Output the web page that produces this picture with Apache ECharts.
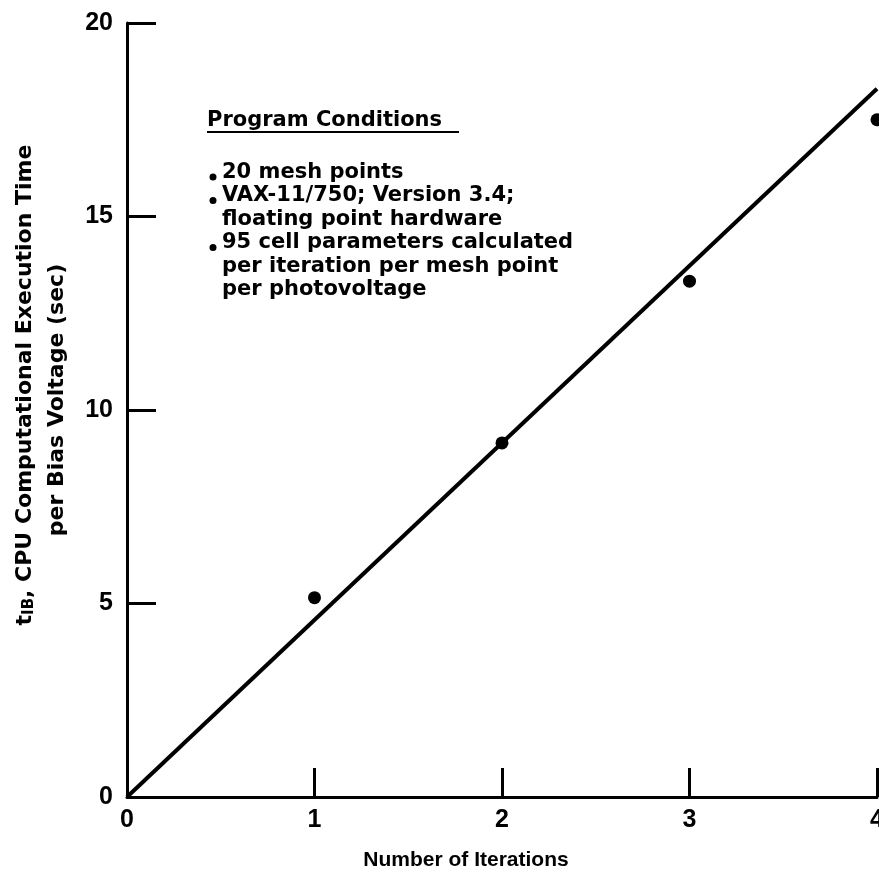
<!DOCTYPE html>
<html>
<head>
<meta charset="utf-8">
<script src="https://cdn.jsdelivr.net/npm/echarts@6/dist/echarts.min.js"></script>
<style>html,body{margin:0;padding:0;background:#fff;}#c{width:879px;height:877px;}</style>
</head>
<body>
<div id="c"></div>
<script>
// Data
var iterations = [1, 2, 3, 4];
var cpuTimes = [5.15, 9.15, 13.33, 17.5];
var fitX = [0, 4];
var fitY = [0, 18.3];
var yTicks = [0, 5, 10, 15, 20];
var xTicks = [0, 1, 2, 3, 4];
var conditionsTitle = 'Program Conditions';
var conditionLines = [
  '20 mesh points',
  'VAX-11/750; Version 3.4;',
  'floating point hardware',
  '95 cell parameters calculated',
  'per iteration per mesh point',
  'per photovoltage'
];
var bulletedLines = [0, 1, 3];

var FONT = '"Liberation Sans", Arial, Helvetica, sans-serif';
var WIDE = '"DejaVu Sans", "Liberation Sans", sans-serif';
var chart = echarts.init(document.getElementById('c'));

var scatterData = iterations.map(function (x, i) { return [x, cpuTimes[i]]; });
var fitData = fitX.map(function (x, i) { return [x, fitY[i]]; });

var graphics = [];
// annotation block
graphics.push({
  type: 'text', left: 207, top: 110,
  style: { text: conditionsTitle, font: 'bold 21px ' + WIDE, fill: '#000' }
});
graphics.push({
  type: 'rect', shape: { x: 207, y: 131, width: 252, height: 2 },
  style: { fill: '#000' }
});
conditionLines.forEach(function (t, i) {
  graphics.push({
    type: 'text', left: 222, top: 162 + i * 23.5,
    style: { text: t, font: 'bold 21px ' + WIDE, fill: '#000' }
  });
  if (bulletedLines.indexOf(i) >= 0) {
    graphics.push({
      type: 'circle', shape: { cx: 213, cy: 177 + i * 23.5, r: 3.5 },
      style: { fill: '#000' }
    });
  }
});
// Y title lines
graphics.push({
  type: 'text', x: 25, y: 385, rotation: Math.PI / 2,
  style: {
    text: '{a|t}{s|IB}{a|, CPU Computational Execution Time}',
    align: 'center', verticalAlign: 'middle',
    rich: {
      a: { font: 'bold 22px ' + WIDE, fill: '#000' },
      s: { font: 'bold 15px ' + WIDE, fill: '#000', padding: [8, 0, 0, 0] }
    }
  }
});
graphics.push({
  type: 'text', x: 57, y: 400, rotation: Math.PI / 2,
  style: { text: 'per Bias Voltage (sec)', align: 'center', verticalAlign: 'middle', font: 'bold 22px ' + WIDE, fill: '#000' }
});
// X title
graphics.push({
  type: 'text', x: 466, y: 860,
  style: { text: 'Number of Iterations', align: 'center', verticalAlign: 'middle', font: 'bold 21px ' + FONT, fill: '#000' }
});

chart.setOption({
  animation: false,
  backgroundColor: '#fff',
  grid: { left: 127, right: 2, top: 23, bottom: 80, containLabel: false, outerBoundsMode: 'none' },
  xAxis: {
    type: 'value', min: 0, max: 4, interval: 1,
    splitLine: { show: false },
    axisLine: { show: true, lineStyle: { color: '#000', width: 3 } },
    axisTick: { show: true, inside: true, length: 29, lineStyle: { color: '#000', width: 3 } },
    axisLabel: { color: '#000', fontSize: 25, fontWeight: 'bold', fontFamily: FONT, margin: 11, hideOverlap: false,
      formatter: function (v) { return xTicks.indexOf(v) >= 0 ? String(v) : ''; } }
  },
  yAxis: {
    type: 'value', min: 0, max: 20, interval: 5,
    splitLine: { show: false },
    axisLine: { show: true, lineStyle: { color: '#000', width: 3 } },
    axisTick: { show: true, inside: true, length: 29, lineStyle: { color: '#000', width: 3 } },
    axisLabel: { color: '#000', fontSize: 25, fontWeight: 'bold', fontFamily: FONT, margin: 14,
      formatter: function (v) { return yTicks.indexOf(v) >= 0 ? String(v) : ''; } }
  },
  series: [
    {
      type: 'line', data: fitData, showSymbol: false, symbol: 'none',
      lineStyle: { color: '#000', width: 4 }, clip: false
    },
    {
      type: 'scatter', data: scatterData, symbol: 'circle', symbolSize: 13,
      itemStyle: { color: '#000', opacity: 1 }, clip: false
    }
  ],
  graphic: graphics
});
</script>
</body>
</html>
